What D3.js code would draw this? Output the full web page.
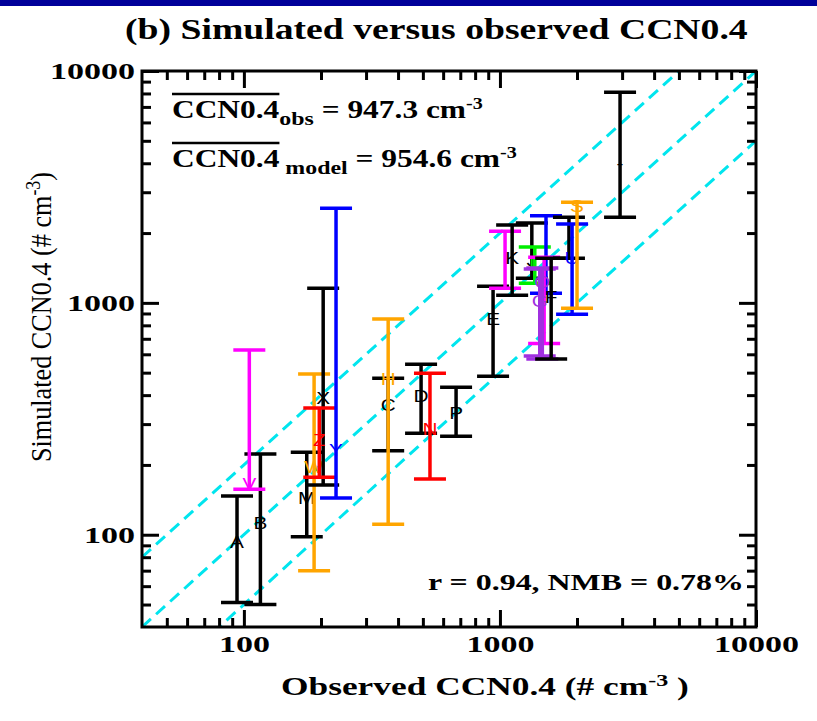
<!DOCTYPE html>
<html>
<head>
<meta charset="utf-8">
<script src="https://cdn.jsdelivr.net/npm/d3@7"></script>
<style>
body { margin: 0; background: #fff; }
text { white-space: pre; }
</style>
</head>
<body>
<div id="chart"></div>
<script>
/* simulated vs observed CCN0.4, one bar per site (model min..max) */
var siteLabels = ["A","B","V","M","W","X","Z","Y","C","H","D","N","P","E","","K","J","L","","","O","G","F","","U","S","-"];
var siteColors = ["black","black","magenta","black","orange","black","red","blue","black","orange","black","red","black","black",
                  "magenta","black","black","green","blue","magenta","purple","purple","black","black","blue","orange","black"];
var obsValues = [94,116,105,176,188,204,197,229,366,366,492,533,674,940,1047,1116,1332,1368,1513,1488,1464,1430,1585,1860,1913,2000,2945];
var modelMean = [93,112,165,144,196,388,256,232,362,469,396,285,335,851,1550,1556,1529,1500,1500,1100,1224,1020,1060,1920,1556,2600,4000];
var modelMin  = [51,50,157,98,70,164,177,144,230,111,274,174,266,483,1157,1079,1276,1216,1101,668,572,590,572,1556,893,947,2340];
var modelMax  = [147,223,626,227,493,1156,352,2560,473,851,544,497,433,1180,2036,2168,2213,1740,2373,1572,1412,1400,1556,2340,2188,2716,8090];

var axisRange = [40, 10000];
var majorTicks = [100, 1000, 10000];
var minorTicks = [50,60,70,80,90,200,300,400,500,600,700,800,900,2000,3000,4000,5000,6000,7000,8000,9000];
var ratioLines = [0.5, 1, 2];

var colorMap = {black: "#000", orange: "#ffa500", red: "#ff0000", blue: "#0000ff", magenta: "#ff00ff", green: "#00ee00", purple: "#a030e0"};
var serif = "'Liberation Serif', 'Times New Roman', serif";
var sans = "'Liberation Sans', Arial, sans-serif";

var width = 817, height = 721;
var plotLeft = 142, plotTop = 71, W = 614, H = 556;

var svg = d3.select("#chart").append("svg")
	.attr("width", width)
	.attr("height", height);

svg.append("rect")
	.attr("x", 0).attr("y", 0)
	.attr("width", width).attr("height", 6)
	.style("fill", "#00009a");

var x = d3.scaleLog().domain(axisRange).range([0, W]);
var y = d3.scaleLog().domain(axisRange).range([H, 0]);

svg.append("defs").append("clipPath").attr("id", "box")
	.append("rect").attr("width", W).attr("height", H);

var plot = svg.append("g").attr("transform", "translate(" + plotLeft + "," + plotTop + ")");

// 1:1, 1:2 and 2:1 lines
plot.append("g").attr("clip-path", "url(#box)")
	.selectAll("line")
	.data(ratioLines)
	.enter()
	.append("line")
	.attr("x1", x(axisRange[0]))
	.attr("y1", function(d) { return y(axisRange[0] * d); })
	.attr("x2", x(axisRange[1]))
	.attr("y2", function(d) { return y(axisRange[1] * d); })
	.style("stroke", "#00e5ee")
	.style("stroke-width", 3)
	.style("stroke-dasharray", "12,7");

var sites = siteLabels.map(function(lab, i) {
	return {label: lab, color: colorMap[siteColors[i]], obs: obsValues[i], mean: modelMean[i], lo: modelMin[i], hi: modelMax[i]};
});

var cap = 16;
var bars = plot.append("g").selectAll("g")
	.data(sites)
	.enter()
	.append("g")
	.style("stroke", function(d) { return d.color; })
	.style("stroke-width", 3.5);

bars.append("line")
	.attr("x1", function(d) { return x(d.obs); })
	.attr("x2", function(d) { return x(d.obs); })
	.attr("y1", function(d) { return y(d.lo); })
	.attr("y2", function(d) { return y(d.hi); });
bars.append("line")
	.attr("x1", function(d) { return x(d.obs) - cap; })
	.attr("x2", function(d) { return x(d.obs) + cap; })
	.attr("y1", function(d) { return y(d.hi); })
	.attr("y2", function(d) { return y(d.hi); });
bars.append("line")
	.attr("x1", function(d) { return x(d.obs) - cap; })
	.attr("x2", function(d) { return x(d.obs) + cap; })
	.attr("y1", function(d) { return y(d.lo); })
	.attr("y2", function(d) { return y(d.lo); });
bars.append("text")
	.attr("transform", function(d) { return "translate(" + x(d.obs) + "," + y(d.mean) + ") scale(1.3,1)"; })
	.attr("text-anchor", "middle")
	.attr("dy", "0.36em")
	.style("stroke", "none")
	.style("fill", function(d) { return d.color; })
	.style("font-family", sans)
	.style("font-size", "16px")
	.text(function(d) { return d.label; });

// axes, ticks inward on all four sides
function styleAxis(g) {
	g.select(".domain").remove();
	g.selectAll(".tick line").style("stroke", "#000").style("stroke-width", 3);
	g.selectAll(".tick text")
		.style("font-family", serif)
		.style("font-weight", "bold")
		.style("font-size", "24px")
		.style("fill", "#000")
		.attr("textLength", function(d) { return String(d).length * 17; })
		.attr("lengthAdjust", "spacingAndGlyphs");
}

plot.append("g").attr("transform", "translate(0," + H + ")")
	.call(d3.axisBottom(x).tickValues(majorTicks).tickFormat(d3.format("d")).tickSize(-17).tickPadding(8))
	.call(styleAxis);
plot.append("g").attr("transform", "translate(0," + H + ")")
	.call(d3.axisBottom(x).tickValues(minorTicks).tickFormat("").tickSize(-9))
	.call(styleAxis);
plot.append("g")
	.call(d3.axisTop(x).tickValues(majorTicks).tickFormat("").tickSize(-17))
	.call(styleAxis);
plot.append("g")
	.call(d3.axisTop(x).tickValues(minorTicks).tickFormat("").tickSize(-9))
	.call(styleAxis);
plot.append("g")
	.call(d3.axisLeft(y).tickValues(majorTicks).tickFormat(d3.format("d")).tickSize(-17).tickPadding(7))
	.call(styleAxis);
plot.append("g")
	.call(d3.axisLeft(y).tickValues(minorTicks).tickFormat("").tickSize(-9))
	.call(styleAxis);
plot.append("g").attr("transform", "translate(" + W + ",0)")
	.call(d3.axisRight(y).tickValues(majorTicks).tickFormat("").tickSize(-17))
	.call(styleAxis);
plot.append("g").attr("transform", "translate(" + W + ",0)")
	.call(d3.axisRight(y).tickValues(minorTicks).tickFormat("").tickSize(-9))
	.call(styleAxis);

plot.append("rect")
	.attr("width", W).attr("height", H)
	.style("fill", "none")
	.style("stroke", "#000")
	.style("stroke-width", 3);

/* stretch a group horizontally so it spans x0..x0+w */
function fitText(g, x0, w) {
	var b = g.node().getBBox();
	var k = w / b.width;
	g.attr("transform", "translate(" + x0 + ",0) scale(" + k + ",1) translate(" + (-b.x) + ",0)");
}

function boldText(g, yy, size) {
	return g.append("text")
		.attr("x", 0).attr("y", yy)
		.style("font-family", serif)
		.style("font-weight", "bold")
		.style("font-size", size + "px")
		.style("fill", "#000");
}

// title
var gTitle = svg.append("g");
boldText(gTitle, 39, 30).text("(b) Simulated versus observed CCN0.4");
fitText(gTitle, 125, 623);

// mean annotations
function meanLabel(yy, sub, rest, x0, w) {
	var g = svg.append("g");
	var t = boldText(g, yy, 25);
	var first = t.append("tspan").text("CCN0.4");
	t.append("tspan").attr("dy", 7).style("font-size", "19px").text(sub);
	t.append("tspan").attr("dy", -7).text(rest);
	t.append("tspan").attr("dy", -9).style("font-size", "16px").text("-3");
	var lw = first.node().getComputedTextLength();
	g.append("line")
		.attr("x1", 0).attr("x2", lw)
		.attr("y1", yy - 24).attr("y2", yy - 24)
		.style("stroke", "#000")
		.style("stroke-width", 2.5);
	fitText(g, x0, w);
}
meanLabel(118, "obs", " = 947.3 cm", 172, 311);
meanLabel(167, " model", " = 954.6 cm", 172, 345);

// statistics
var gStat = svg.append("g");
boldText(gStat, 590, 24).text("r = 0.94, NMB = 0.78%");
fitText(gStat, 428, 316);

// x title
var gX = svg.append("g");
var tx = boldText(gX, 695, 25);
tx.append("tspan").text("Observed CCN0.4 (# cm");
tx.append("tspan").attr("dy", -9).style("font-size", "17px").text("-3");
tx.append("tspan").attr("dy", 9).text(" )");
fitText(gX, 281, 408);

// y title
var ty = svg.append("text")
	.attr("transform", "translate(51,317) scale(1.35,1) rotate(-90)")
	.attr("text-anchor", "middle")
	.attr("textLength", 290)
	.attr("lengthAdjust", "spacingAndGlyphs")
	.style("font-family", serif)
	.style("font-size", "22px")
	.style("fill", "#000");
ty.append("tspan").text("Simulated CCN0.4 (# cm");
ty.append("tspan").attr("dy", -8).style("font-size", "15px").text("-3");
ty.append("tspan").attr("dy", 8).text(")");
</script>
</body>
</html>
